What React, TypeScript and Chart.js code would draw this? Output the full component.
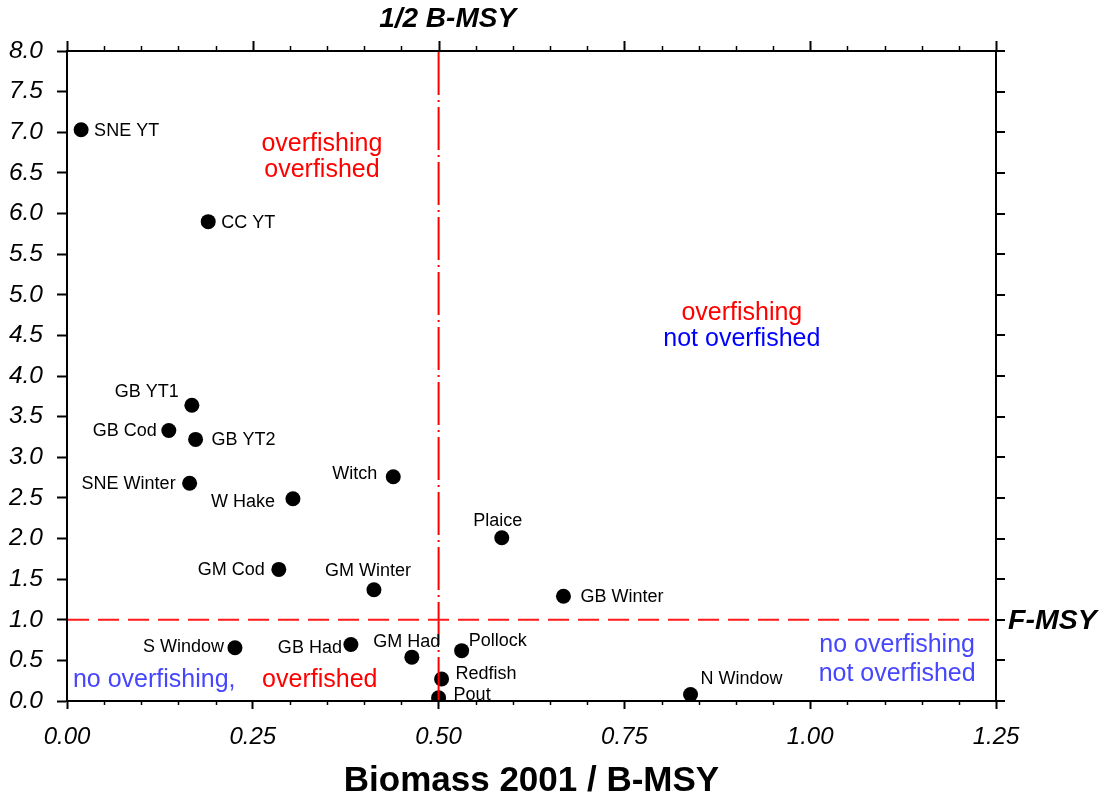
import React, { useEffect, useRef } from "react";
import { Chart, registerables } from "chart.js";

Chart.register(...registerables);

// ---- data ----
const stockNames = [
  "SNE YT", "CC YT", "GB YT1", "GB Cod", "GB YT2", "SNE Winter", "W Hake", "Witch",
  "Plaice", "GM Cod", "GM Winter", "GB Winter", "S Window", "GB Had", "GM Had",
  "Pollock", "Redfish", "Pout", "N Window",
];
const biomassRatio = [
  0.019, 0.190, 0.168, 0.137, 0.173, 0.165, 0.304, 0.439,
  0.585, 0.285, 0.413, 0.668, 0.226, 0.382, 0.464,
  0.531, 0.504, 0.500, 0.839,
];
const fishingRatio = [
  7.03, 5.90, 3.64, 3.33, 3.22, 2.68, 2.49, 2.76,
  2.01, 1.62, 1.37, 1.29, 0.655, 0.695, 0.54,
  0.62, 0.27, 0.04, 0.08,
];

// label placement relative to each point (pixels)
const labelAlign = [
  "left", "left", "right", "right", "left", "right", "right", "right",
  "center", "right", "center", "left", "right", "right", "center",
  "left", "left", "left", "left",
];
const labelDx = [13, 13, -13, -12, 16, -14, -18, -16, -4, -14, -6, 17, -11, -9, -5, 7, 14, 15, 10];
const labelDy = [0, 0, -14, 0, 0, 0, 2, -4, -18, 0, -20, 0, -2, 2, -16, -11, -6, -4, -16];

const xTickStep = 0.25;
const yTickStep = 0.5;
const xMin = 0, xMax = 1.25, yMin = 0, yMax = 8;
const halfBmsy = 0.5;
const fmsy = 1.0;

const xTitle = "Biomass 2001 / B-MSY";
const vLineTitle = "1/2 B-MSY";
const hLineTitle = "F-MSY";

// region annotations (data coordinates of text baseline)
const regionText = [
  { text: "overfishing", x: 0.343, y: 6.77, color: "#ff0000", align: "center" },
  { text: "overfished", x: 0.343, y: 6.455, color: "#ff0000", align: "center" },
  { text: "overfishing", x: 0.908, y: 4.695, color: "#ff0000", align: "center" },
  { text: "not overfished", x: 0.908, y: 4.375, color: "#0000ff", align: "center" },
  { text: "no overfishing", x: 1.117, y: 0.603, color: "#4646ff", align: "center" },
  { text: "not overfished", x: 1.117, y: 0.252, color: "#4646ff", align: "center" },
  { text: "no overfishing,", x: 0.008, y: 0.178, color: "#4646ff", align: "left" },
  { text: "overfished", x: 0.2625, y: 0.178, color: "#ff0000", align: "left" },
];

const FONT = "'Liberation Sans', Arial, sans-serif";

const overlayPlugin = {
  id: "overlay",
  afterDatasetsDraw(chart: any) {
    const { ctx, chartArea: a, scales } = chart;
    const x = scales.x, y = scales.y;
    ctx.save();

    // frame (top & right)
    ctx.strokeStyle = "#000";
    ctx.lineWidth = 2;
    ctx.setLineDash([]);
    ctx.beginPath();
    ctx.moveTo(a.left - 1, a.top);
    ctx.lineTo(a.right, a.top);
    ctx.lineTo(a.right, a.bottom + 1);
    ctx.stroke();

    // top ticks + bottom minor ticks
    const nX = Math.round((xMax - xMin) / 0.05);
    for (let i = 0; i <= nX; i++) {
      const v = xMin + i * 0.05;
      const px = Math.round(x.getPixelForValue(v)) + 0.5;
      const major = i % 5 === 0;
      ctx.lineWidth = major ? 2 : 1.5;
      ctx.beginPath();
      ctx.moveTo(px, a.top);
      ctx.lineTo(px, a.top - (major ? 10 : 5));
      ctx.stroke();
      if (!major) {
        ctx.beginPath();
        ctx.moveTo(px, a.bottom);
        ctx.lineTo(px, a.bottom + 4);
        ctx.stroke();
      }
    }
    // right ticks
    const nY = Math.round((yMax - yMin) / yTickStep);
    ctx.lineWidth = 2;
    for (let i = 0; i <= nY; i++) {
      const py = Math.round(y.getPixelForValue(yMin + i * yTickStep));
      ctx.beginPath();
      ctx.moveTo(a.right, py);
      ctx.lineTo(a.right + 9, py);
      ctx.stroke();
    }

    // reference lines
    const vx = x.getPixelForValue(halfBmsy);
    ctx.strokeStyle = "#ff0000";
    ctx.lineWidth = 2;
    ctx.setLineDash([43, 5, 2, 5]);
    ctx.beginPath();
    ctx.moveTo(vx, a.top + 1);
    ctx.lineTo(vx, a.bottom);
    ctx.stroke();

    const hy = y.getPixelForValue(fmsy);
    ctx.strokeStyle = "#ff1a1a";
    ctx.lineWidth = 1.8;
    ctx.setLineDash([21, 9]);
    ctx.beginPath();
    ctx.moveTo(a.left + 1, hy);
    ctx.lineTo(a.right, hy);
    ctx.stroke();
    ctx.setLineDash([]);

    // line titles
    ctx.fillStyle = "#000";
    ctx.font = `italic bold 28px ${FONT}`;
    ctx.textAlign = "center";
    ctx.textBaseline = "middle";
    ctx.fillText(vLineTitle, vx + 9, a.top - 32);
    ctx.font = `italic bold 28.5px ${FONT}`;
    ctx.textAlign = "left";
    ctx.fillText(hLineTitle, a.right + 12, hy + 1);

    // point labels
    const meta = chart.getDatasetMeta(0);
    ctx.font = `18px ${FONT}`;
    ctx.fillStyle = "#000";
    ctx.textBaseline = "middle";
    meta.data.forEach((pt: any, i: number) => {
      ctx.textAlign = labelAlign[i];
      ctx.fillText(stockNames[i], pt.x + labelDx[i], pt.y + labelDy[i] + 1);
    });

    // region annotations
    ctx.font = `25px ${FONT}`;
    ctx.textBaseline = "alphabetic";
    regionText.forEach((r) => {
      ctx.fillStyle = r.color;
      ctx.textAlign = r.align as CanvasTextAlign;
      ctx.fillText(r.text, x.getPixelForValue(r.x), y.getPixelForValue(r.y));
    });

    ctx.restore();
  },
};

export default function App() {
  const canvasRef = useRef<HTMLCanvasElement | null>(null);

  useEffect(() => {
    const canvas = canvasRef.current;
    if (!canvas) return;
    const points = biomassRatio.map((b, i) => ({ x: b, y: fishingRatio[i] }));
    const chart = new Chart(canvas, {
      type: "scatter",
      data: {
        datasets: [
          {
            data: points,
            backgroundColor: "#000",
            borderWidth: 0,
            pointRadius: 7.5,
            pointHoverRadius: 7.5,
          },
        ],
      },
      options: {
        responsive: false,
        devicePixelRatio: 1,
        animation: false,
        events: [],
        layout: { padding: { top: 51, right: 111, bottom: 0, left: 0 } },
        plugins: { legend: { display: false }, tooltip: { enabled: false }, title: { display: false } },
        scales: {
          x: {
            type: "linear",
            position: "bottom",
            min: xMin,
            max: xMax,
            afterFit: (s: any) => { s.height = 105; },
            ticks: {
              stepSize: xTickStep,
              autoSkip: false,
              maxRotation: 0,
              color: "#000",
              padding: 14,
              font: { family: FONT, size: 24, style: "italic" },
              callback: (v: any) => Number(v).toFixed(2),
            },
            grid: { drawOnChartArea: false, drawTicks: true, tickLength: 8, tickColor: "#000", tickWidth: 2 },
            border: { display: true, color: "#000", width: 2 },
            title: {
              display: true,
              text: xTitle,
              color: "#000",
              font: { family: FONT, size: 35, weight: "bold" },
              padding: { top: 0, bottom: 4 },
            },
          },
          y: {
            type: "linear",
            min: yMin,
            max: yMax,
            afterFit: (s: any) => { s.width = 67; },
            ticks: {
              stepSize: yTickStep,
              autoSkip: false,
              color: "#000",
              padding: 14,
              font: { family: FONT, size: 24.5, style: "italic" },
              callback: (v: any) => Number(v).toFixed(1),
            },
            grid: { drawOnChartArea: false, drawTicks: true, tickLength: 10, tickColor: "#000", tickWidth: 2 },
            border: { display: true, color: "#000", width: 2 },
          },
        },
      },
      plugins: [overlayPlugin],
    } as any);
    return () => chart.destroy();
  }, []);

  return (
    <div style={{ position: "absolute", left: 0, top: 0, width: 1107, height: 806, background: "#fff" }}>
      <canvas ref={canvasRef} width={1107} height={806} />
    </div>
  );
}
